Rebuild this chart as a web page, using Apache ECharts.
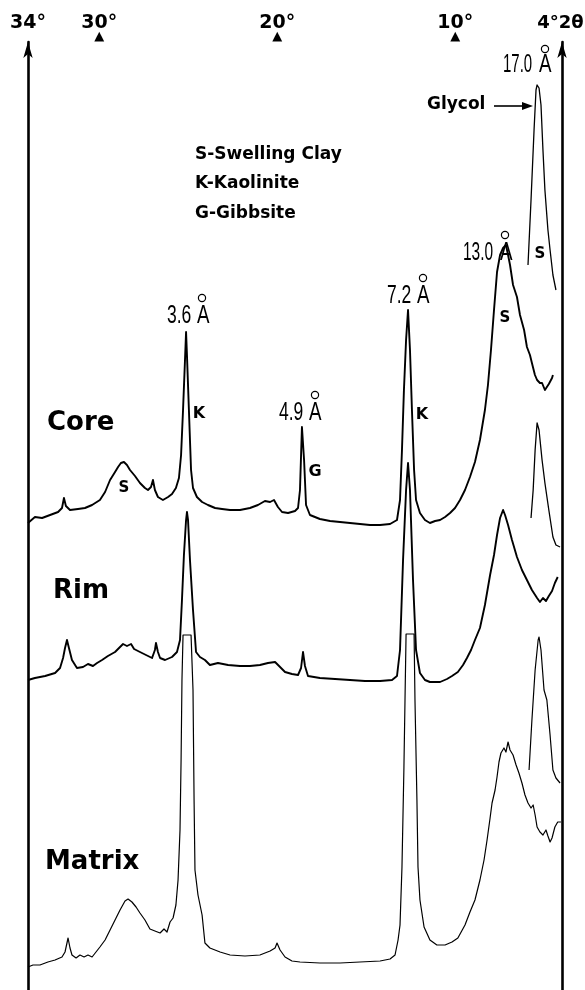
<!DOCTYPE html>
<html>
<head>
<meta charset="utf-8">
<script src="https://cdn.jsdelivr.net/npm/echarts@6/dist/echarts.min.js"></script>
<style>html,body{margin:0;padding:0;background:#fff}#c{width:585px;height:990px}</style>
</head>
<body>
<div id="c"></div>
<script>
// ---- data: [2θ (degrees), intensity (arbitrary units, traces stacked)] ----
const tickValues = [34, 30, 20, 10, 4];
const tickLabels = ['34°', '30°', '20°', '10°', '4°2θ'];
const tickMarked = [false, true, true, true, false];

const coreTrace = [[34.00,467],[33.61,473],[33.21,472],[32.76,475],[32.31,478],[32.09,482],[31.98,492],[31.87,484],[31.64,480],[31.19,481],[30.80,482],[30.40,485],[29.96,490],[29.67,498],[29.39,510],[29.11,518],[28.94,523],[28.78,527],[28.61,528],[28.44,525],[28.27,520],[27.99,514],[27.71,507],[27.43,502],[27.26,500],[27.09,503],[26.98,510],[26.87,500],[26.70,493],[26.42,490],[26.13,493],[25.91,496],[25.69,502],[25.52,512],[25.40,535],[25.29,580],[25.18,630],[25.12,658],[25.07,635],[24.96,580],[24.84,520],[24.73,502],[24.51,493],[24.22,488],[23.89,485],[23.49,482],[23.10,481],[22.65,480],[22.09,480],[21.53,482],[21.08,485],[20.69,489],[20.40,488],[20.18,490],[19.96,483],[19.73,478],[19.39,477],[19.00,479],[18.83,482],[18.72,500],[18.61,563],[18.49,530],[18.38,485],[18.16,475],[17.60,471],[17.03,469],[16.47,468],[15.91,467],[15.35,466],[14.79,465],[14.22,465],[13.66,466],[13.27,470],[13.10,490],[12.99,540],[12.88,600],[12.76,650],[12.65,680],[12.54,640],[12.43,580],[12.31,520],[12.20,490],[11.98,477],[11.70,470],[11.42,467],[11.13,469],[10.85,470],[10.57,473],[10.29,477],[10.01,482],[9.73,490],[9.45,500],[9.17,513],[8.89,528],[8.61,550],[8.33,580],[8.16,605],[7.99,640],[7.82,680],[7.65,718],[7.48,735],[7.31,742],[7.15,745],[7.03,735],[6.92,725],[6.75,705],[6.53,693],[6.36,675],[6.13,660],[5.97,643],[5.80,635],[5.69,627],[5.52,615],[5.40,610],[5.24,607],[5.12,607],[4.96,600],[4.85,603],[4.74,606],[4.56,612],[4.51,615]];
const coreGlycol = [[5.91,725],[5.74,790],[5.57,860],[5.46,900],[5.40,905],[5.29,902],[5.18,885],[5.07,840],[4.96,800],[4.79,760],[4.67,740],[4.51,715],[4.34,700]];

const rimTrace = [[34.00,310],[33.61,312],[33.04,314],[32.48,317],[32.20,322],[32.03,332],[31.92,342],[31.81,350],[31.70,342],[31.53,330],[31.25,322],[30.91,323],[30.63,326],[30.35,324],[30.12,327],[29.84,330],[29.51,334],[29.11,338],[28.83,343],[28.66,346],[28.44,344],[28.21,346],[28.04,341],[27.71,338],[27.37,335],[27.03,332],[26.87,340],[26.81,347],[26.70,338],[26.58,332],[26.30,330],[25.91,333],[25.63,338],[25.46,350],[25.35,390],[25.24,435],[25.12,470],[25.07,478],[25.01,470],[24.90,430],[24.73,380],[24.56,338],[24.34,333],[24.06,330],[23.78,325],[23.33,327],[22.76,325],[22.09,324],[21.53,324],[20.97,325],[20.52,327],[20.12,328],[19.84,323],[19.56,318],[19.17,316],[18.83,315],[18.66,322],[18.55,338],[18.44,324],[18.27,314],[17.60,312],[16.75,311],[15.91,310],[15.07,309],[14.22,309],[13.55,310],[13.27,314],[13.10,340],[12.93,430],[12.76,500],[12.65,527],[12.54,500],[12.37,410],[12.20,340],[11.98,317],[11.70,310],[11.42,308],[10.85,308],[10.46,311],[10.18,314],[9.85,318],[9.56,325],[9.34,332],[9.11,340],[8.89,350],[8.61,362],[8.33,385],[8.04,415],[7.82,435],[7.65,455],[7.48,472],[7.31,480],[7.20,475],[7.03,465],[6.81,450],[6.53,433],[6.25,420],[5.97,410],[5.69,400],[5.40,392],[5.24,388],[5.07,392],[4.90,389],[4.74,394],[4.56,399],[4.40,407],[4.24,413]];
const rimGlycol = [[5.74,472],[5.62,500],[5.51,540],[5.40,567],[5.29,560],[5.12,530],[4.96,507],[4.74,480],[4.51,453],[4.34,445],[4.11,443]];

const matrixTrace = [[34.00,23],[33.72,25],[33.33,25],[32.88,28],[32.48,30],[32.09,33],[31.92,38],[31.75,52],[31.64,42],[31.53,35],[31.30,32],[31.08,35],[30.85,33],[30.63,35],[30.40,33],[30.18,38],[29.96,43],[29.67,50],[29.39,60],[29.11,70],[28.83,80],[28.55,89],[28.38,91],[28.16,88],[27.93,83],[27.71,77],[27.43,70],[27.15,61],[26.87,59],[26.58,57],[26.36,61],[26.19,58],[26.02,68],[25.85,72],[25.69,85],[25.57,110],[25.46,160],[25.40,230],[25.35,310],[25.29,355],[24.84,355],[24.73,300],[24.67,190],[24.62,120],[24.45,95],[24.22,75],[24.06,47],[23.78,42],[23.21,38],[22.65,35],[21.81,34],[20.97,35],[20.40,39],[20.12,42],[20.01,47],[19.84,40],[19.56,33],[19.17,29],[18.72,28],[17.60,27],[16.47,27],[15.35,28],[14.22,29],[13.66,31],[13.38,35],[13.21,50],[13.10,65],[12.99,123],[12.88,223],[12.82,290],[12.76,356],[12.31,356],[12.26,290],[12.15,190],[12.09,123],[11.98,90],[11.75,63],[11.42,50],[11.03,45],[10.57,45],[10.18,48],[9.85,52],[9.45,65],[9.17,78],[8.89,90],[8.61,110],[8.38,130],[8.21,150],[8.04,172],[7.93,187],[7.76,200],[7.65,213],[7.54,228],[7.43,237],[7.26,242],[7.15,238],[7.03,248],[6.92,240],[6.75,235],[6.58,225],[6.42,217],[6.25,207],[6.08,195],[5.91,187],[5.74,182],[5.62,185],[5.51,175],[5.40,163],[5.24,158],[5.07,155],[4.90,160],[4.79,154],[4.67,148],[4.56,152],[4.40,163],[4.24,168],[4.06,168]];
const matrixGlycol = [[5.85,220],[5.69,270],[5.51,320],[5.34,350],[5.29,353],[5.18,340],[5.01,300],[4.85,290],[4.67,255],[4.51,220],[4.34,212],[4.11,207]];

const peakLabels = ['3.6', '4.9', '7.2', '13.0', '17.0'];
const sampleNames = ['Core', 'Rim', 'Matrix'];
const keyLines = ['S-Swelling Clay', 'K-Kaolinite', 'G-Gibbsite'];

// ---- chart ----
const chart = echarts.init(document.getElementById('c'), null, {renderer: 'canvas'});

function lineSeries(name, data, w) {
  return {name, type: 'line', data, showSymbol: false, symbol: 'none', silent: true,
    lineStyle: {color: '#000', width: w, join: 'round'}, animation: false, z: 3};
}

const narrow = 'Liberation Sans';
function peakText(label, x, yMid, ax, rx, ry, sx) {
  return [
    {type: 'text', x: x, y: yMid, scaleX: sx || 0.7, style: {text: label, fontFamily: narrow, fontSize: 25, fill: '#000', textAlign: 'left', textVerticalAlign: 'middle'}},
    {type: 'text', x: ax, y: yMid, scaleX: 0.75, style: {text: 'A', fontFamily: narrow, fontSize: 25, fill: '#000', textAlign: 'left', textVerticalAlign: 'middle'}},
    {type: 'circle', shape: {cx: rx, cy: ry, r: 3.6}, style: {fill: 'none', stroke: '#000', lineWidth: 1.2}}
  ];
}
function boldText(t, x, y, size, align) {
  return {type: 'text', x: x, y: y, style: {text: t, fontFamily: 'DejaVu Sans', fontWeight: 'bold', fontSize: size, fill: '#000', textAlign: align || 'left', textVerticalAlign: 'middle'}};
}

const graphics = [].concat(
  peakText(peakLabels[0], 167, 316, 197, 202, 298),
  peakText(peakLabels[1], 279, 413, 309, 315, 395),
  peakText(peakLabels[2], 387, 296, 417, 423, 278),
  peakText(peakLabels[3], 463, 253, 500, 505, 235, 0.62),
  peakText(peakLabels[4], 503, 65, 539, 545, 49, 0.6),
  [
    boldText('K', 199, 414, 16, 'center'),
    boldText('K', 422, 415, 16, 'center'),
    boldText('G', 315, 472, 16, 'center'),
    boldText('S', 124, 488, 15, 'center'),
    boldText('S', 505, 318, 15, 'center'),
    boldText('S', 540, 254, 15, 'center'),
    boldText(keyLines[0], 195, 155, 17),
    boldText(keyLines[1], 195, 184, 17),
    boldText(keyLines[2], 195, 214, 17),
    boldText(sampleNames[0], 47, 423, 26),
    boldText(sampleNames[1], 53, 591, 26),
    boldText(sampleNames[2], 45, 862, 26),
    boldText('Glycol', 427, 105, 17),
    {type: 'line', shape: {x1: 494, y1: 106, x2: 524, y2: 106}, style: {stroke: '#000', lineWidth: 1.6}},
    {type: 'polygon', shape: {points: [[533, 106], [522, 102], [522, 110]]}, style: {fill: '#000'}}
  ]
);

const yAxisCommon = {
  type: 'value', min: 0, max: 948,
  axisLabel: {show: false}, axisTick: {show: false}, splitLine: {show: false},
  axisLine: {show: true, onZero: false, symbol: ['none', 'arrow'], symbolSize: [7, 16], symbolOffset: [0, 0], lineStyle: {color: '#000', width: 2.6}}
};

chart.setOption({
  animation: false,
  backgroundColor: '#fff',
  grid: {left: 28, right: 23, top: 42, bottom: 0, containLabel: false, outerBoundsMode: 'none'},
  xAxis: {
    type: 'value', min: 4, max: 34, inverse: true, position: 'top',
    axisLine: {show: false}, axisTick: {show: false}, splitLine: {show: false},
    axisLabel: {
      show: true, margin: 0, hideOverlap: false,
      customValues: tickValues,
      formatter: function (v) {
        const i = tickValues.indexOf(v);
        if (i < 0) return '';
        const style = i === tickValues.length - 1 ? 'b' : 'a';
        return '{' + style + '|' + tickLabels[i] + '}\n{t|' + (tickMarked[i] ? '▲' : ' ') + '}';
      },
      rich: {
        a: {fontFamily: 'DejaVu Sans', fontWeight: 'bold', fontSize: 19, color: '#000', lineHeight: 18},
        b: {fontFamily: 'DejaVu Sans', fontWeight: 'bold', fontSize: 18, color: '#000', lineHeight: 18, padding: [0, 3, 0, 0]},
        t: {fontFamily: 'DejaVu Sans', fontSize: 13, color: '#000', lineHeight: 10}
      }
    }
  },
  yAxis: [
    Object.assign({}, yAxisCommon, {position: 'left'}),
    Object.assign({}, yAxisCommon, {position: 'right'})
  ],
  series: [
    lineSeries('Core', coreTrace, 1.9),
    lineSeries('Core glycol', coreGlycol, 1.3),
    lineSeries('Rim', rimTrace, 1.9),
    lineSeries('Rim glycol', rimGlycol, 1.3),
    lineSeries('Matrix', matrixTrace, 1.2),
    lineSeries('Matrix glycol', matrixGlycol, 1.2)
  ],
  graphic: graphics
});
</script>
</body>
</html>
